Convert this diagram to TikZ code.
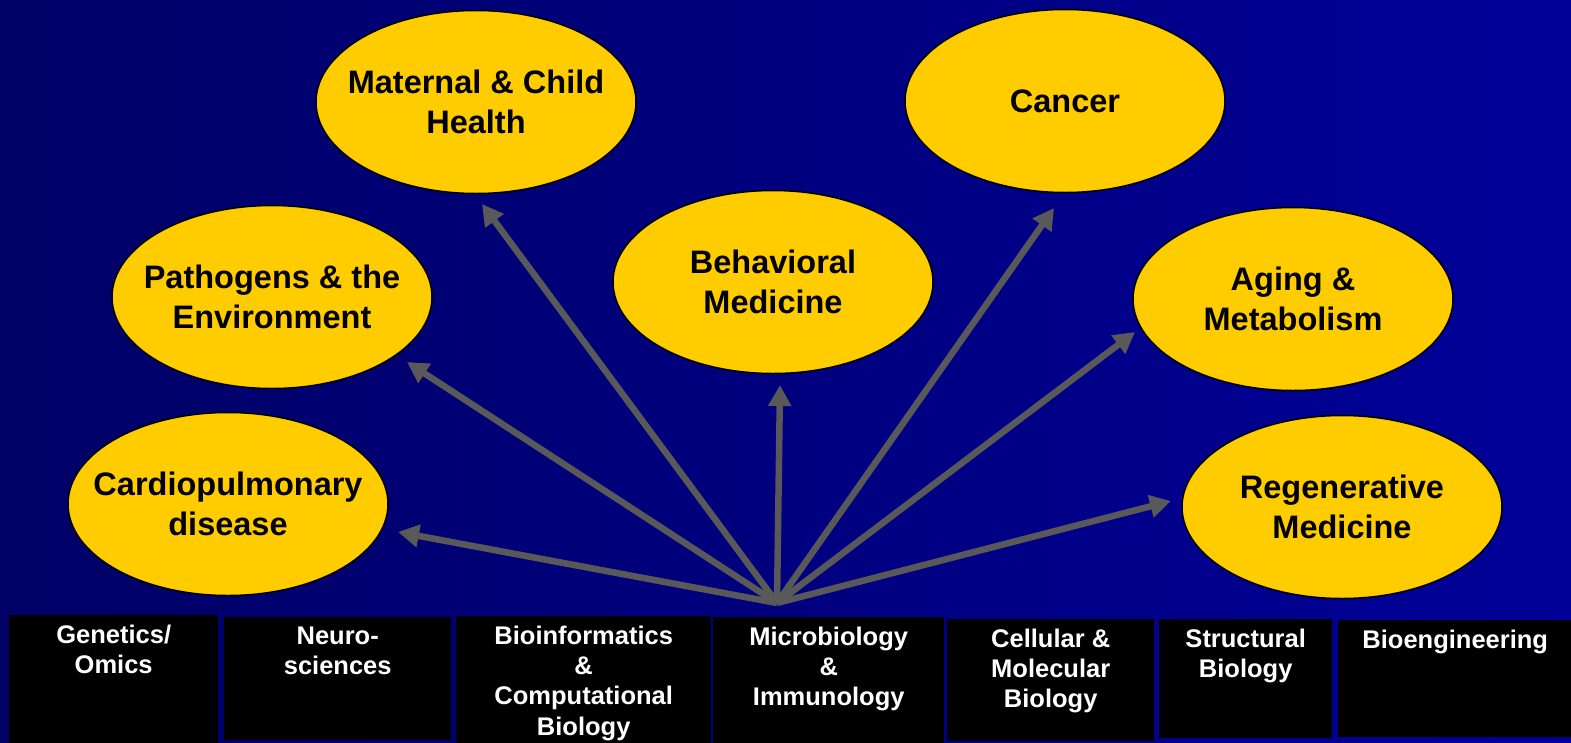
\documentclass[tikz,border=0pt]{standalone}
\usepackage{fontspec}
\setmainfont{Liberation Sans}
\usetikzlibrary{shapes.geometric,arrows.meta}
\definecolor{topicgold}{RGB}{255,204,0}
\definecolor{arrowgray}{RGB}{89,89,89}
\definecolor{deepnavy}{RGB}{0,0,102}
\definecolor{slideblue}{RGB}{0,0,152}

\begin{document}
\begin{tikzpicture}[x=1pt,y=-1pt,
    topic/.style={ellipse, draw=black, line width=1.5pt, fill=topicgold,
        minimum width=320pt, minimum height=183pt, inner sep=0pt},
    topictext/.style={align=center, text=black, inner sep=0pt,
        font=\fontsize{32.5}{40}\selectfont\bfseries},
    field/.style={rectangle, fill=black, inner sep=0pt, anchor=north west},
    fieldtext/.style={align=center, anchor=north, text=white, inner sep=0pt,
        font=\fontsize{25.5}{30.3}\selectfont\bfseries},
    link/.style={draw=arrowgray, line width=6.5pt, -{Triangle[length=21pt,width=22pt]}}]

    % Background of the slide
    \useasboundingbox (0,0) rectangle (1571,742);
    \shade[left color=deepnavy, right color=slideblue] (0,0) rectangle (1571,742);

    % Research fields along the bottom
    \node[field, minimum width=209pt, minimum height=130pt] (genetics) at (9,615) {};
    \node[field, minimum width=227pt, minimum height=123pt] (neuro) at (224,617) {};
    \node[field, minimum width=255pt, minimum height=128pt] (bioinfo) at (456,616) {};
    \node[field, minimum width=231pt, minimum height=127pt] (microbio) at (713,617) {};
    \node[field, minimum width=207pt, minimum height=122pt] (cellmol) at (947,619) {};
    \node[field, minimum width=173pt, minimum height=119pt] (structural) at (1159,619) {};
    \node[field, minimum width=236pt, minimum height=117pt] (bioeng) at (1338,620) {};

    \node[fieldtext] (geneticsT) at ([yshift=-9.5pt]genetics.north) {Genetics/\\Omics};
    \node[fieldtext] (neuroT) at ([yshift=-9.5pt]neuro.north) {Neuro-\\sciences};
    \node[fieldtext] (bioinfoT) at ([yshift=-9.5pt]bioinfo.north) {Bioinformatics\\\&\\Computational\\Biology};
    \node[fieldtext] (microbioT) at ([yshift=-9.5pt]microbio.north) {Microbiology\\\&\\Immunology};
    \node[fieldtext] (cellmolT) at ([yshift=-9.5pt]cellmol.north) {Cellular \&\\Molecular\\Biology};
    \node[fieldtext] (structuralT) at ([yshift=-9.5pt]structural.north) {Structural\\Biology};
    \node[fieldtext] (bioengT) at ([xshift=-1pt,yshift=-9.5pt]bioeng.north) {Bioengineering};

    % Disease areas
    \node[topic] (maternal) at (476,102) {};
    \node[topic] (cancer) at (1065,101) {};
    \node[topic] (pathogens) at (272,297) {};
    \node[topic] (behavioral) at (773,282) {};
    \node[topic] (aging) at (1293,299) {};
    \node[topic] (cardio) at (228,504) {};
    \node[topic] (regen) at (1342,507) {};

    \node[topictext] (maternalT) at (maternal) {Maternal \& Child\\Health};
    \node[topictext] (cancerT) at (cancer) {Cancer};
    \node[topictext] (pathogensT) at (pathogens) {Pathogens \& the\\Environment};
    \node[topictext] (behavioralT) at (behavioral) {Behavioral\\Medicine};
    \node[topictext] (agingT) at (aging) {Aging \&\\Metabolism};
    \node[topictext] (cardioT) at (cardio) {Cardiopulmonary\\disease};
    \node[topictext] (regenT) at (regen) {Regenerative\\Medicine};

    % Arrows fanning out from the fields
    \coordinate (hub) at (777,603);
    \coordinate (toCardio) at (398,532);
    \coordinate (toPathogens) at (407,362);
    \coordinate (toMaternal) at (482,204);
    \coordinate (toBehavioral) at (780,385);
    \coordinate (toCancer) at (1054,208);
    \coordinate (toAging) at (1135,332);
    \coordinate (toRegen) at (1171,501);

    \foreach \target in {toCardio,toPathogens,toMaternal,toBehavioral,toCancer,toAging,toRegen}
        \draw[link] (hub) -- (\target);
\end{tikzpicture}
\end{document}
